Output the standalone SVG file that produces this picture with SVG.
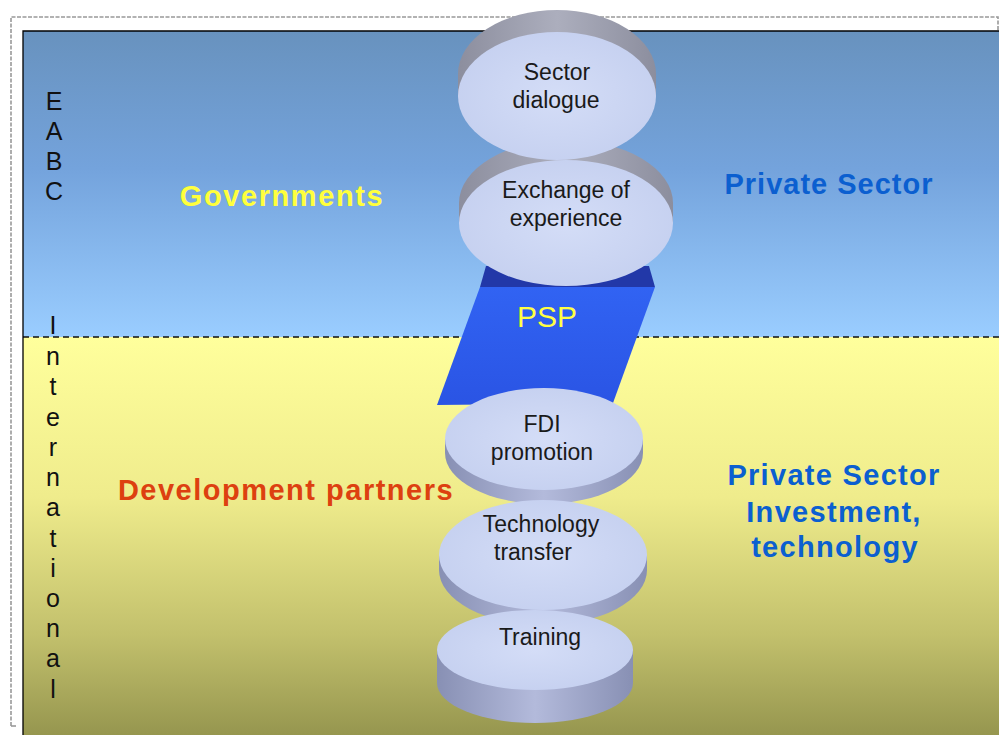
<svg xmlns="http://www.w3.org/2000/svg" width="999" height="735" viewBox="0 0 999 735">
<defs>
<linearGradient id="skyG" x1="0" y1="0" x2="0" y2="1">
<stop offset="0" stop-color="#6892be"/>
<stop offset="0.45" stop-color="#74a3dc"/>
<stop offset="1" stop-color="#9acdff"/>
</linearGradient>
<linearGradient id="sandG" x1="0" y1="0" x2="0" y2="1">
<stop offset="0" stop-color="#ffff9c"/>
<stop offset="0.4" stop-color="#efec8c"/>
<stop offset="0.75" stop-color="#c2c06c"/>
<stop offset="1" stop-color="#96964f"/>
</linearGradient>
<linearGradient id="sideTop" x1="0" y1="0" x2="1" y2="0">
<stop offset="0" stop-color="#8c8e9e"/>
<stop offset="0.5" stop-color="#acaebd"/>
<stop offset="1" stop-color="#8c8e9e"/>
</linearGradient>
<linearGradient id="sideBot" x1="0" y1="0" x2="1" y2="0">
<stop offset="0" stop-color="#8890b4"/>
<stop offset="0.5" stop-color="#b3badb"/>
<stop offset="1" stop-color="#8890b4"/>
</linearGradient>
<radialGradient id="faceG" cx="0.5" cy="0.5" r="0.6">
<stop offset="0" stop-color="#d4ddf7"/>
<stop offset="1" stop-color="#c4cfef"/>
</radialGradient>
<linearGradient id="pspG" x1="0" y1="0" x2="0" y2="1">
<stop offset="0" stop-color="#3163f3"/>
<stop offset="1" stop-color="#2a54e4"/>
</linearGradient>
</defs>
<style>
.face{fill:url(#faceG);}
.st{fill:url(#sideTop);}
.sb{fill:url(#sideBot);}
.dt{font-family:"Liberation Sans",Arial,sans-serif;font-size:23px;fill:#1a1a1a;text-anchor:middle;}
.big{font-family:"Liberation Sans",Arial,sans-serif;font-size:29px;font-weight:bold;text-anchor:middle;}
.vert{font-family:"Liberation Sans",Arial,sans-serif;font-size:25px;fill:#111;text-anchor:middle;}
</style>
<rect x="0" y="0" width="999" height="735" fill="#ffffff"/>
<g id="background">
<rect x="23" y="31" width="976" height="306" fill="url(#skyG)"/>
<rect x="23" y="337" width="976" height="398" fill="url(#sandG)"/>
<line x1="23" y1="337" x2="999" y2="337" stroke="#111" stroke-width="1.3" stroke-dasharray="6 4"/>
<path d="M23 735 V31 H999" fill="none" stroke="#000" stroke-width="1.3"/>
<path d="M11 726 V17 H998 V30" fill="none" stroke="#999" stroke-width="1.6" stroke-dasharray="4 1.5"/>
<path d="M11 726 H16" fill="none" stroke="#999" stroke-width="1.6"/>
</g>
<g id="labels">
<text class="big" x="282" y="206" fill="#ffff3c" letter-spacing="1.6">Governments</text>
<text class="big" x="829" y="194" fill="#0b5fd0" letter-spacing="1">Private Sector</text>
<text class="big" x="286" y="500" fill="#dd4010" letter-spacing="1.5">Development partners</text>
<text class="big" x="834" y="485" fill="#0b5fd0" letter-spacing="1.3">Private Sector</text>
<text class="big" x="834" y="522" fill="#0b5fd0" letter-spacing="1.3">Investment,</text>
<text class="big" x="835" y="557" fill="#0b5fd0" letter-spacing="1.3">technology</text>
</g>
<g id="eabc">
<text class="vert" x="54" y="110">E</text>
<text class="vert" x="54" y="140">A</text>
<text class="vert" x="54" y="170">B</text>
<text class="vert" x="54" y="200">C</text>
</g>
<g id="international">
<text class="vert" x="53" y="334">I</text>
<text class="vert" x="53" y="365">n</text>
<text class="vert" x="53" y="395">t</text>
<text class="vert" x="53" y="426">e</text>
<text class="vert" x="53" y="456">r</text>
<text class="vert" x="53" y="486">n</text>
<text class="vert" x="53" y="516">a</text>
<text class="vert" x="53" y="547">t</text>
<text class="vert" x="53" y="577">i</text>
<text class="vert" x="53" y="607">o</text>
<text class="vert" x="53" y="637">n</text>
<text class="vert" x="53" y="667">a</text>
<text class="vert" x="53" y="698">l</text>
</g>
<g id="connectors"></g>
<g id="psp">
<polygon points="486,266 649,266 655,287 480,287" fill="#2238a8"/>
<polygon points="480,287 655,287 613,403 437,405" fill="url(#pspG)"/>
<text x="547" y="327" font-family="'Liberation Sans',Arial,sans-serif" font-size="30" fill="#ffff44" text-anchor="middle">PSP</text>
</g>
<g id="exchange">
<ellipse class="st" cx="566" cy="203" rx="107" ry="63"/>
<rect class="st" x="459" y="203" width="214" height="20"/>
<ellipse class="face" cx="566" cy="223" rx="107" ry="63"/>
<text class="dt" x="566" y="198">Exchange of</text>
<text class="dt" x="566" y="226">experience</text>
</g>
<g id="sector-dialogue">
<ellipse class="st" cx="557" cy="74" rx="99" ry="64"/>
<rect class="st" x="458" y="74" width="198" height="22"/>
<ellipse class="face" cx="557" cy="96" rx="99" ry="64"/>
<text class="dt" x="557" y="80">Sector</text>
<text class="dt" x="556" y="108">dialogue</text>
</g>
<g id="fdi">
<ellipse class="sb" cx="544" cy="453" rx="99" ry="51"/>
<rect class="sb" x="445" y="439" width="198" height="14"/>
<ellipse class="face" cx="544" cy="439" rx="99" ry="51"/>
<text class="dt" x="542" y="432">FDI</text>
<text class="dt" x="542" y="460">promotion</text>
</g>
<g id="technology">
<ellipse class="sb" cx="543" cy="570" rx="104" ry="55"/>
<rect class="sb" x="439" y="555" width="208" height="15"/>
<ellipse class="face" cx="543" cy="555" rx="104" ry="55"/>
<text class="dt" x="541" y="532">Technology</text>
<text class="dt" x="533" y="560">transfer</text>
</g>
<g id="training">
<ellipse class="sb" cx="535" cy="683" rx="98" ry="40"/>
<rect class="sb" x="437" y="650" width="196" height="33"/>
<ellipse class="face" cx="535" cy="650" rx="98" ry="40"/>
<text class="dt" x="540" y="645">Training</text>
</g>
</svg>
